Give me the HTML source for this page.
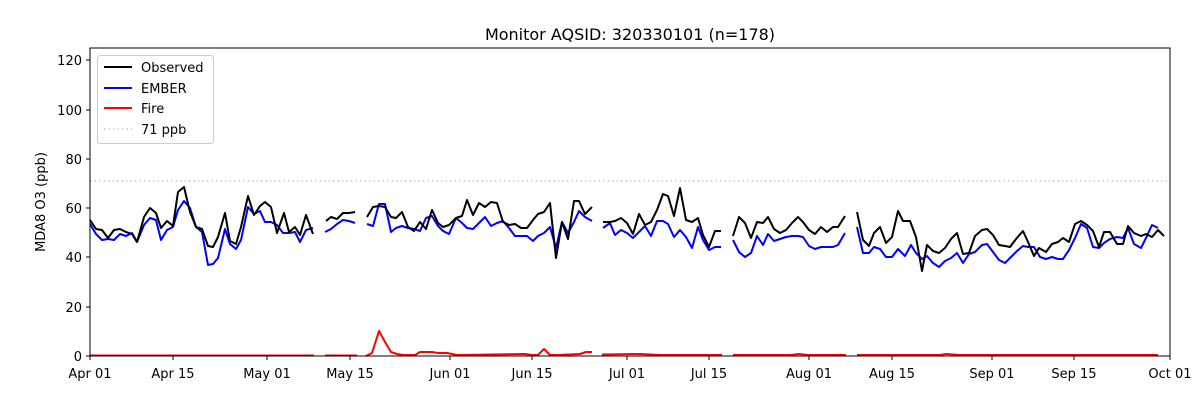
<!DOCTYPE html>
<html><head><meta charset="utf-8"><style>body{margin:0;background:#fff}svg{display:block}text{font-family:"DejaVu Sans","Liberation Sans",sans-serif;font-size:13px;fill:#000}</style></head><body>
<svg width="1200" height="400" xmlns="http://www.w3.org/2000/svg">
<rect width="1200" height="400" fill="#fff"/>
<text x="630" y="40" text-anchor="middle" font-size="16" style="font-size:16px">Monitor AQSID: 320330101 (n=178)</text>
<line x1="90" y1="181" x2="1170" y2="181" stroke="#ccc" stroke-width="1.5" stroke-dasharray="1.5,3"/>
<g fill="none" stroke-width="2" stroke-linejoin="round">
<g stroke="#ff0000">
<polyline points="90,355.5 314,355.5"/><polyline points="325,355.5 357,355.5"/>
<polyline points="366,356 372,353 379,331 385,342 391,352 397,354 403,355 415,355 420,352 432,352 438,353 447,353 457,355 525,354 532,355 538,355 544,349 550,355 557,355 580,354 586,352 592,352"/>
<polyline points="602,354.5 640,354 660,355 722,355"/><polyline points="733,355 790,355 799,354 808,355 846,355"/><polyline points="857,355 940,355 946,354 960,355 1158,355"/>
</g>
<g stroke="#0000ff">
<polyline points="90,224 96,234 102,240 108,239 114,240 120,234 126,236 132,233 137,242 144,225 150,218 156,220 161,240 167,230 173,227 178,210 184,201 190,208 196,227 202,232 208,265 213,264 218,258 225,229 230,244 236,249 241,240 248,207 254,214 260,211 265,222 271,222 277,225 283,233 289,233 295,232 300,242 306,230 313,228"/>
<polyline points="325,232 331,229 337,224 343,220 349,221 355,223"/>
<polyline points="367,224 373,226 379,204 385,204 391,232 396,228 402,226 408,228 414,229 420,231 426,218 432,216 438,226 443,231 449,234 456,218 462,223 467,228 473,229 479,223 485,217 491,226 497,223 503,221 509,228 515,236 521,236 527,236 533,241 538,236 544,233 550,227 556,248 562,222 568,233 574,222 579,211 585,217 592,221"/>
<polyline points="603,228 610,223 615,235 621,230 627,233 633,238 639,232 645,226 651,236 657,221 663,221 668,224 674,237 680,230 686,237 692,248 698,227 703,240 709,250 715,247 721,247"/>
<polyline points="733,240 739,252 745,257 751,253 757,236 763,245 768,234 774,241 780,239 786,237 792,236 798,236 803,237 809,246 815,249 821,247 827,247 833,247 838,245 845,233"/>
<polyline points="857,227 863,253 869,253 874,247 880,249 886,257 892,257 898,249 905,256 911,245 916,253 922,259 927,256 933,263 939,267 945,261 951,258 957,253 963,263 969,254 975,252 982,245 987,244 993,252 999,260 1005,263 1011,257 1017,251 1023,246 1028,247 1034,247 1040,257 1046,259 1052,257 1058,259 1063,259 1069,250 1075,238 1081,224 1087,228 1093,247 1099,248 1104,243 1110,239 1117,237 1123,238 1128,228 1134,244 1141,248 1146,238 1152,225 1158,228"/>
</g>
<g stroke="#000">
<polyline points="90,220 96,229 102,230 108,238 114,230 120,229 126,232 132,234 137,242 144,217 150,208 156,213 161,228 167,221 173,226 178,192 184,187 190,212 196,227 202,229 208,246 213,247 218,237 225,213 230,241 236,244 241,227 248,196 254,215 260,206 265,202 271,207 277,233 284,213 289,232 295,227 300,235 306,215 313,234"/>
<polyline points="326,221 331,217 337,219 343,213 349,213 355,212"/>
<polyline points="367,217 373,207 379,206 385,207 391,217 396,218 402,212 408,227 414,231 420,222 426,229 432,210 438,223 443,227 449,225 456,218 462,216 467,200 473,215 479,203 485,207 491,202 497,203 503,222 509,225 515,224 521,228 527,228 533,220 538,214 544,212 550,203 556,258 562,222 568,239 574,201 579,201 585,214 592,207"/>
<polyline points="603,222 610,222 615,221 621,218 627,223 633,234 639,214 645,225 651,222 657,210 663,194 668,196 674,216 680,188 686,220 692,222 698,218 703,235 709,247 715,231 721,231"/>
<polyline points="733,236 739,217 745,223 751,238 757,222 763,223 768,217 774,229 780,233 786,230 792,223 798,217 803,222 809,230 815,234 821,227 827,232 833,227 838,227 845,216"/>
<polyline points="857,212 863,240 869,246 874,233 880,227 886,243 892,237 898,211 903,221 910,221 916,237 922,271 927,245 933,251 939,253 945,248 951,239 957,233 963,254 969,253 975,236 982,230 987,229 993,235 999,245 1005,246 1010,247 1016,239 1023,231 1028,242 1034,256 1039,248 1046,252 1052,244 1058,242 1063,238 1069,242 1075,224 1081,221 1087,225 1093,231 1099,247 1104,232 1110,232 1117,244 1123,244 1128,226 1134,233 1141,236 1146,234 1152,237 1158,230 1164,236"/>
</g>
</g>
<rect x="90" y="48" width="1080" height="308" fill="none" stroke="#000" stroke-width="1"/>
<g stroke="#000" stroke-width="1">
<line x1="86" y1="356" x2="90" y2="356"/><line x1="86" y1="307" x2="90" y2="307"/><line x1="86" y1="257" x2="90" y2="257"/><line x1="86" y1="208" x2="90" y2="208"/><line x1="86" y1="159" x2="90" y2="159"/><line x1="86" y1="110" x2="90" y2="110"/><line x1="86" y1="60" x2="90" y2="60"/>
<line x1="90" y1="356" x2="90" y2="360"/><line x1="173" y1="356" x2="173" y2="360"/><line x1="267" y1="356" x2="267" y2="360"/><line x1="350" y1="356" x2="350" y2="360"/><line x1="450" y1="356" x2="450" y2="360"/><line x1="532" y1="356" x2="532" y2="360"/><line x1="627" y1="356" x2="627" y2="360"/><line x1="709" y1="356" x2="709" y2="360"/><line x1="809" y1="356" x2="809" y2="360"/><line x1="892" y1="356" x2="892" y2="360"/><line x1="992" y1="356" x2="992" y2="360"/><line x1="1074" y1="356" x2="1074" y2="360"/><line x1="1170" y1="356" x2="1170" y2="360"/>
</g>
<g text-anchor="end">
<text x="82" y="361">0</text><text x="82" y="312">20</text><text x="82" y="262">40</text><text x="82" y="213">60</text><text x="82" y="164">80</text><text x="82" y="115">100</text><text x="82" y="65">120</text>
</g>
<g text-anchor="middle">
<text x="90" y="378">Apr 01</text><text x="173" y="378">Apr 15</text><text x="267" y="378">May 01</text><text x="350" y="378">May 15</text><text x="450" y="378">Jun 01</text><text x="532" y="378">Jun 15</text><text x="627" y="378">Jul 01</text><text x="709" y="378">Jul 15</text><text x="809" y="378">Aug 01</text><text x="892" y="378">Aug 15</text><text x="992" y="378">Sep 01</text><text x="1074" y="378">Sep 15</text><text x="1170" y="378">Oct 01</text>
</g>
<text transform="translate(45,202) rotate(-90)" text-anchor="middle">MDA8 O3 (ppb)</text>
<rect x="97.5" y="55.5" width="116" height="88" rx="3" fill="#fff" fill-opacity="0.8" stroke="#ccc"/>
<line x1="104" y1="67" x2="132" y2="67" stroke="#000" stroke-width="2"/><text x="141" y="72">Observed</text>
<line x1="104" y1="88" x2="132" y2="88" stroke="#0000ff" stroke-width="2"/><text x="141" y="93">EMBER</text>
<line x1="104" y1="108" x2="132" y2="108" stroke="#ff0000" stroke-width="2"/><text x="141" y="113">Fire</text>
<line x1="104" y1="129" x2="132" y2="129" stroke="#ccc" stroke-width="1.5" stroke-dasharray="1.5,3"/><text x="141" y="134">71 ppb</text>
</svg>
</body></html>
